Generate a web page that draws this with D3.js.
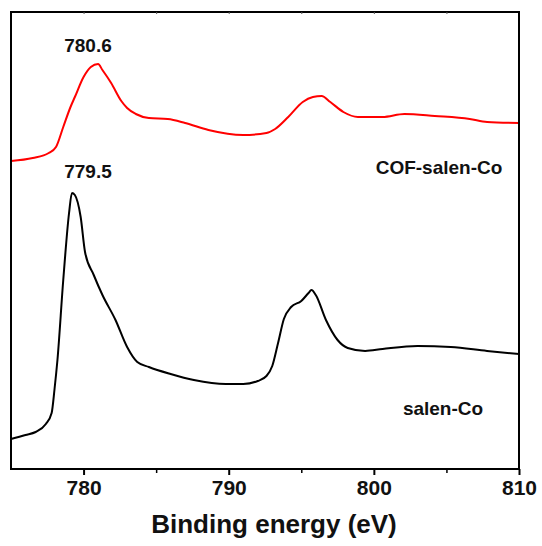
<!DOCTYPE html>
<html>
<head>
<meta charset="utf-8">
<script src="https://cdn.jsdelivr.net/npm/d3@7"></script>
<style>
  html, body { margin: 0; padding: 0; background: #fff; }
  svg { display: block; font-family: "Liberation Sans", Arial, sans-serif; }
</style>
</head>
<body>
<svg id="chart" width="542" height="546"></svg>
<script>
// Binding energy (eV) and intensity (arbitrary units)
const redEnergy = [775, 776.5, 777.6, 778.1, 778.6, 779.1, 779.4, 780.0, 780.5, 781.0, 781.3, 781.9, 782.6, 783.0, 783.6, 784.5, 785.8, 787.0, 788.6, 791.0, 792.6, 793.2, 794.1, 795.1, 795.8, 796.4, 797.0, 797.9, 798.9, 800.6, 802.1, 804.2, 806.6, 807.8, 810];
const redIntensity = [308, 311, 316, 322, 342, 362, 372, 392, 402, 405, 399, 386, 368, 361, 355, 351, 350, 346, 339, 334, 336, 340, 352, 367, 372, 373, 367, 357, 352, 352, 355, 353, 350, 347, 346];

const blackEnergy = [775, 776.0, 776.7, 777.4, 777.8, 778.0, 778.2, 778.6, 779.0, 779.2, 779.4, 779.8, 780.1, 780.7, 781.3, 782.2, 783.0, 783.7, 784.5, 786.0, 787.6, 789.8, 791.0, 792.0, 792.6, 793.0, 793.4, 793.8, 794.3, 795.0, 795.5, 795.7, 796.0, 796.7, 797.5, 798.2, 799.4, 800.6, 803.0, 805.3, 807.8, 810];
const blackIntensity = [30, 34, 37, 45, 56, 80, 109, 189, 256, 276, 274, 252, 217, 194, 174, 149, 122, 107, 102, 95, 89, 85, 85, 88, 93, 103, 126, 150, 162, 168, 176, 179, 174, 149, 129, 121, 118, 120, 123, 122, 118, 115];

const seriesNames = ["COF-salen-Co", "salen-Co"];
const peakLabels = ["780.6", "779.5"];
const xTicks = [780, 790, 800, 810];
const xMinorTicks = [785, 795, 805];
const topTicks = [780, 785, 790, 795, 800, 805];
const xTitle = "Binding energy (eV)";

const svg = d3.select("#chart");
const L = 11, R = 519, T = 12, B = 469;

const x = d3.scaleLinear().domain([775, 810]).range([L, R]);
const y = d3.scaleLinear().domain([0, 457]).range([B, T]);

const line = d3.line().x(d => x(d[0])).y(d => y(d[1])).curve(d3.curveMonotoneX);

const redData = redEnergy.map((e, i) => [e, redIntensity[i]]);
const blackData = blackEnergy.map((e, i) => [e, blackIntensity[i]]);

svg.append("path").datum(blackData).attr("d", line)
  .attr("fill", "none").attr("stroke", "#000").attr("stroke-width", 2);
svg.append("path").datum(redData).attr("d", line)
  .attr("fill", "none").attr("stroke", "#ff0000").attr("stroke-width", 2);

// frame
svg.append("rect").attr("x", L).attr("y", T).attr("width", R - L).attr("height", B - T)
  .attr("fill", "none").attr("stroke", "#000").attr("stroke-width", 2);

// bottom axis
const xAxis = d3.axisBottom(x).tickValues(xTicks).tickSize(6).tickPadding(5).tickFormat(d3.format("d"));
const gx = svg.append("g").attr("transform", `translate(0,${B})`).call(xAxis);
gx.select(".domain").remove();
gx.selectAll(".tick line").attr("stroke", "#000").attr("stroke-width", 2);
gx.selectAll(".tick text").attr("font-size", 21).attr("font-weight", "bold")
  .attr("font-family", "Liberation Sans, Arial, sans-serif").attr("fill", "#111");

const xMinor = d3.axisBottom(x).tickValues(xMinorTicks).tickSize(4).tickFormat("");
const gm = svg.append("g").attr("transform", `translate(0,${B})`).call(xMinor);
gm.select(".domain").remove();
gm.selectAll(".tick line").attr("stroke", "#000").attr("stroke-width", 1.5);

// top minor ticks (inward)
const xTop = d3.axisBottom(x).tickValues(topTicks).tickSize(2).tickFormat("");
const gt = svg.append("g").attr("transform", `translate(0,${T})`).call(xTop);
gt.select(".domain").remove();
gt.selectAll(".tick line").attr("stroke", "#555").attr("stroke-width", 1);

// axis title
svg.append("text").attr("x", 274).attr("y", 533).attr("text-anchor", "middle")
  .attr("font-size", 26).attr("font-weight", "bold").attr("fill", "#111").text(xTitle);

// annotations
svg.append("text").attr("x", 88).attr("y", 52).attr("text-anchor", "middle")
  .attr("font-size", 19).attr("font-weight", "bold").attr("fill", "#111").text(peakLabels[0]);
svg.append("text").attr("x", 88).attr("y", 178).attr("text-anchor", "middle")
  .attr("font-size", 19).attr("font-weight", "bold").attr("fill", "#111").text(peakLabels[1]);
svg.append("text").attr("x", 439).attr("y", 174).attr("text-anchor", "middle")
  .attr("font-size", 19).attr("font-weight", "bold").attr("fill", "#111").text(seriesNames[0]);
svg.append("text").attr("x", 443).attr("y", 415).attr("text-anchor", "middle")
  .attr("font-size", 19).attr("font-weight", "bold").attr("fill", "#111").text(seriesNames[1]);
</script>
</body>
</html>
